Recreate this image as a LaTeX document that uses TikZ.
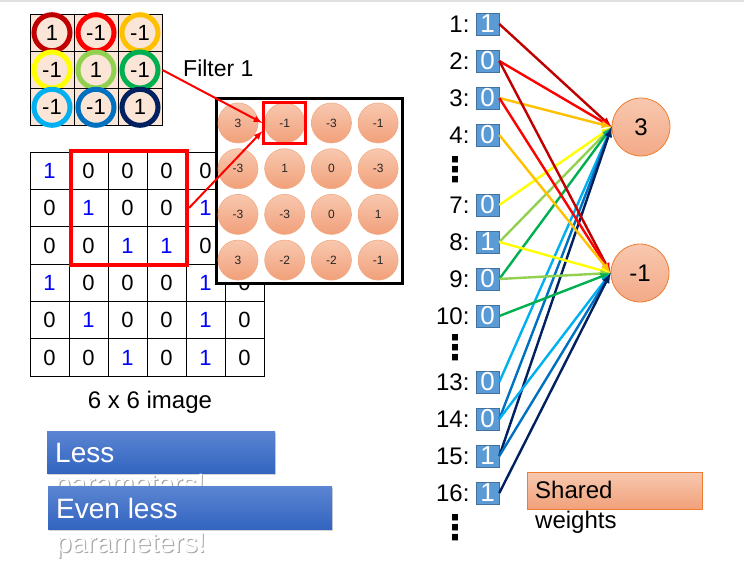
\documentclass[tikz,border=0pt]{standalone}
\usepackage{fontspec}
\setmainfont{Liberation Sans}
\newfontfamily\symfont{DejaVu Sans}
\usepackage{tikz}
\usetikzlibrary{calc}
\usetikzlibrary{arrows}
\usetikzlibrary{shadows}
\usetikzlibrary{positioning}
\newcommand{\fs}[1]{\fontsize{#1}{#1}\selectfont}
\definecolor{peach}{RGB}{251,229,214}
\definecolor{wDarkRed}{RGB}{192,0,0}
\definecolor{wRed}{RGB}{255,0,0}
\definecolor{wOrange}{RGB}{255,192,0}
\definecolor{wYellow}{RGB}{255,255,0}
\definecolor{wLime}{RGB}{146,208,80}
\definecolor{wGreen}{RGB}{0,176,80}
\definecolor{wSky}{RGB}{0,176,240}
\definecolor{wBlue}{RGB}{0,112,192}
\definecolor{wNavy}{RGB}{0,32,96}
\definecolor{pixblue}{RGB}{0,0,255}
\definecolor{dotTop}{RGB}{248,200,175}
\definecolor{dotBot}{RGB}{241,160,122}
\definecolor{dotEdge}{RGB}{243,170,130}
\definecolor{outEdge}{RGB}{237,125,49}
\definecolor{inFill}{RGB}{91,155,213}
\definecolor{inEdge}{RGB}{65,113,156}
\definecolor{msgTop}{RGB}{92,133,210}
\definecolor{msgBot}{RGB}{50,100,192}
\tikzset{cell/.style={draw=black,line width=1pt,fill=peach,minimum width=44pt,minimum height=37.3pt,inner sep=0pt}}
\tikzset{ring/.style={circle,draw=#1,line width=5pt,fill=peach,minimum size=36pt,inner sep=0pt,font=\fs{22}}}
\tikzset{pix/.style={draw=black,line width=1pt,minimum width=39pt,minimum height=37.3pt,inner sep=0pt,font=\fs{22}}}
\tikzset{pix0/.style={text=black},pix1/.style={text=pixblue}}
\tikzset{fdot/.style={circle,draw=dotEdge,line width=0.6pt,top color=dotTop,bottom color=dotBot,minimum size=40pt,inner sep=0pt,font=\fs{12},text=black!85}}
\tikzset{inbox/.style={draw=inEdge,line width=0.6pt,fill=inFill,text=white,minimum width=23pt,minimum height=22pt,inner sep=0pt,font=\fs{26}}}
\tikzset{outnode/.style={circle,draw=outEdge,line width=0.8pt,top color=dotTop,bottom color=dotBot!90,minimum size=58pt,inner sep=0pt,font=\fs{24}}}
\tikzset{wire/.style={line width=2.4pt,-latex}}
\tikzset{gapdots/.style={font=\symfont\bfseries\fs{34},inner sep=0pt}}
\tikzset{redarrow/.style={draw=wRed,line width=2pt,-latex,color=wRed}}
\tikzset{msg/.style={top color=msgTop,bottom color=msgBot,drop shadow={shadow xshift=1pt,shadow yshift=-2pt,opacity=0.35},inner sep=0pt,anchor=north west}}
\tikzset{msgtxt/.style={anchor=base west,text=white,font=\fs{28},inner sep=0pt}}
\tikzset{txtshadow/.style={anchor=base west,text=black!35,font=\fs{28},inner sep=0pt}}

\begin{document}
\begin{tikzpicture}[x=1pt,y=-1pt]
\useasboundingbox (0,0) rectangle (744,561);
\draw[black!12, line width=2pt] (0,1) -- (744,1);

% filter
\foreach \r/\row in {1/{1/wDarkRed,-1/wRed,-1/wOrange},2/{-1/wYellow,1/wLime,-1/wGreen},3/{-1/wSky,-1/wBlue,1/wNavy}}
 \foreach \v/\col [count=\c] in \row
 {
  \node[cell] (fc-\r-\c) at ({52+44*(\c-1)},{32.7+37.3*(\r-1)}) {};
  \node[ring=\col] (f-\r-\c) at (fc-\r-\c) {\v};
 }
\node[font=\fs{23},anchor=base west,inner sep=0pt] (flab) at (183,77) {Filter 1};

% image (cells under the map panel left empty)
\foreach \r/\row in {1/{1,0,0,0,0,{}},2/{0,1,0,0,1,{}},3/{0,0,1,1,0,{}},4/{1,0,0,0,1,0},5/{0,1,0,0,1,0},6/{0,0,1,0,1,0}}
 \foreach \v [count=\c] in \row
 {
  \node[pix,pix\v] (p-\r-\c) at ({49.5+39*(\c-1)},{171+37.3*(\r-1)}) {\v};
 }
\node[draw=wRed,line width=4pt,minimum width=116pt,minimum height=114pt,inner sep=0pt] (win) at (129,208) {};
\node[font=\fs{24},anchor=base,inner sep=0pt] (imgcap) at (150,408) {6 x 6 image};

% feature map
\node[draw=black,line width=3pt,fill=white,minimum width=186pt,minimum height=185pt,inner sep=0pt,
      drop shadow={shadow xshift=1.5pt,shadow yshift=-1.5pt,opacity=0.3}] (fmap) at (309,191.5) {};
\foreach \r/\row in {1/{3,-1,-3,-1},2/{-3,1,0,-3},3/{-3,-3,0,1},4/{3,-2,-2,-1}}
 \foreach \v [count=\c] in \row
 {
  \node[fdot] (m-\r-\c) at ({238+46.7*(\c-1)},{123+45.7*(\r-1)}) {\v};
 }
\node[draw=wRed,line width=2.5pt,minimum width=42pt,minimum height=41pt,inner sep=0pt] (hit) at (m-1-2) {};
\draw[redarrow] (fc-2-3.east) -- (hit.west);
\draw[redarrow] (win.east) -- ([yshift=-8pt]hit.west);

% inputs and outputs
\node[outnode] (oa) at (641,127) {3};
\node[outnode] (ob) at (640,273) {-1};
\foreach \k/\v/\y in {1/1/24,2/0/61,3/0/98,4/0/135,7/0/205,8/1/242,9/0/279,10/0/316,13/0/382,14/0/419,15/1/456,16/1/493}
 {
  \node[inbox] (in\k) at (487.5,\y) {\v};
  \node[left=6pt of in\k,font=\fs{24},inner sep=0pt] (lab\k) {\k:};
 }
\node[gapdots] (gap1) at (455,170) {⋮};
\node[gapdots] (gap2) at (455,348) {⋮};
\node[gapdots] (gap3) at (455,528) {⋮};

\foreach \k/\col in {1/wDarkRed,2/wRed,3/wOrange,7/wYellow,8/wLime,9/wGreen,13/wSky,14/wBlue,15/wNavy}
 \draw[wire,color=\col] (in\k.east) -- (oa.west);
\foreach \k/\col in {2/wDarkRed,3/wRed,4/wOrange,8/wYellow,9/wLime,10/wGreen,14/wSky,15/wBlue,16/wNavy}
 \draw[wire,color=\col] (in\k.east) -- (ob.west);

% shared weights
\node[draw=outEdge,line width=1pt,top color=dotTop,bottom color=dotBot,minimum width=175pt,minimum height=37pt,inner sep=0pt,anchor=north west] (shared) at (527,472) {};
\node[anchor=base west,font=\fs{24},inner sep=0pt] (sharedA) at (535,498) {Shared};
\node[anchor=base west,font=\fs{24},inner sep=0pt] (sharedB) at (535,528) {weights};

% less parameters
\node[msg,minimum width=228pt,minimum height=42pt] (less) at (47,431) {};
\node[msgtxt] (lessA) at (55,462) {Less};
\node[txtshadow] (lessS) at (56.2,494.5) {parameters!};
\node[msgtxt] (lessB) at (55,493) {parameters!};
\node[msg,minimum width=284pt,minimum height=43pt] (even) at (48,486) {};
\node[msgtxt] (evenA) at (56,518) {Even less};
\node[txtshadow] (evenS) at (57.2,553.5) {parameters!};
\node[msgtxt] (evenB) at (56,552) {parameters!};

\end{tikzpicture}
\end{document}
